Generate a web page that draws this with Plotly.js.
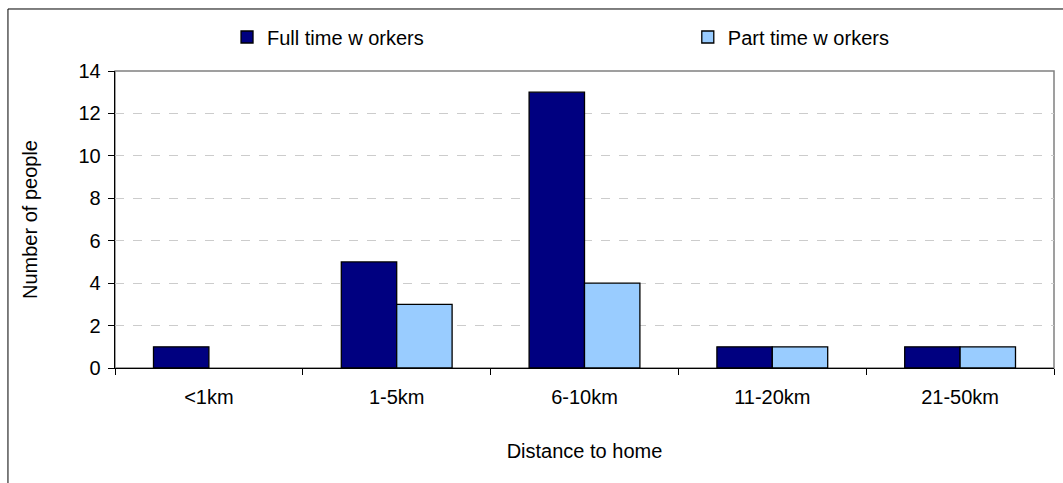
<!DOCTYPE html>
<html><head><meta charset="utf-8">
<script src="https://cdn.plot.ly/plotly-3.0.1.min.js"></script>
<style>html,body{margin:0;padding:0;background:#fff}#chart{width:1063px;height:483px}</style>
</head><body><div id="chart"></div>
<script>
var categories = ["<1km", "1-5km", "6-10km", "11-20km", "21-50km"];
var fullTime = [1, 5, 13, 1, 1];
var partTime = [0, 3, 4, 1, 1];
var seriesNames = ["Full time w orkers", "Part time w orkers"];
var yTicks = [0, 2, 4, 6, 8, 10, 12, 14];

var font = {family: "Liberation Sans, Arial, sans-serif", size: 20, color: "#000"};
function hideZero(arr) { return arr.map(function (v) { return v === 0 ? null : v; }); }
var traces = [
  {type: "bar", name: seriesNames[0], x: categories, y: hideZero(fullTime), legend: "legend",
   marker: {color: "#000080", line: {color: "#000", width: 1.3}}},
  {type: "bar", name: seriesNames[1], x: categories, y: hideZero(partTime), legend: "legend2",
   marker: {color: "#99ccff", line: {color: "#000", width: 1.3}}}
];
var legendCommon = {orientation: "h", xanchor: "left", yanchor: "middle", y: 1.1145,
  font: font, bgcolor: "rgba(0,0,0,0)", borderwidth: 0, itemclick: false};
var layout = {
  width: 1063, height: 483,
  margin: {l: 115, r: 9, t: 71, b: 115, autoexpand: false},
  paper_bgcolor: "#fff", plot_bgcolor: "#fff",
  font: font,
  barmode: "group", bargap: 0.41, bargroupgap: 0,
  showlegend: true,
  legend: Object.assign({}, legendCommon, {x: 0.1193}),
  legend2: Object.assign({}, legendCommon, {x: 0.610}),
  xaxis: {type: "category", tickson: "boundaries", ticks: "outside", ticklen: 6,
          tickcolor: "#000", showline: true, linecolor: "#000", linewidth: 1.3,
          showgrid: false, fixedrange: true, tickfont: font, automargin: false,
          ticklabelstandoff: 11,
          title: {text: "Distance to home", font: font, standoff: 36}},
  yaxis: {range: [0, 14], tickvals: yTicks, ticks: "outside", ticklen: 6,
          tickcolor: "#000", showline: true, linecolor: "#000", linewidth: 1.3,
          showgrid: true, gridcolor: "#cccccc", griddash: "dash", gridwidth: 1,
          zeroline: false, tickfont: font, fixedrange: true, automargin: false,
          ticklabelstandoff: 3,
          title: {text: "Number of people", font: font, standoff: 35}},
  shapes: [
    {type: "rect", xref: "paper", yref: "paper", x0: 0, x1: 1, y0: 0, y1: 1,
     line: {color: "#808080", width: 1.5}, layer: "below"},
    {type: "rect", xref: "paper", yref: "paper", x0: -0.114, x1: 1.2, y0: -0.6, y1: 1.2088,
     line: {color: "#000", width: 1}, layer: "below"}
  ]
};
Plotly.newPlot("chart", traces, layout, {displayModeBar: false, staticPlot: true});
</script></body></html>
